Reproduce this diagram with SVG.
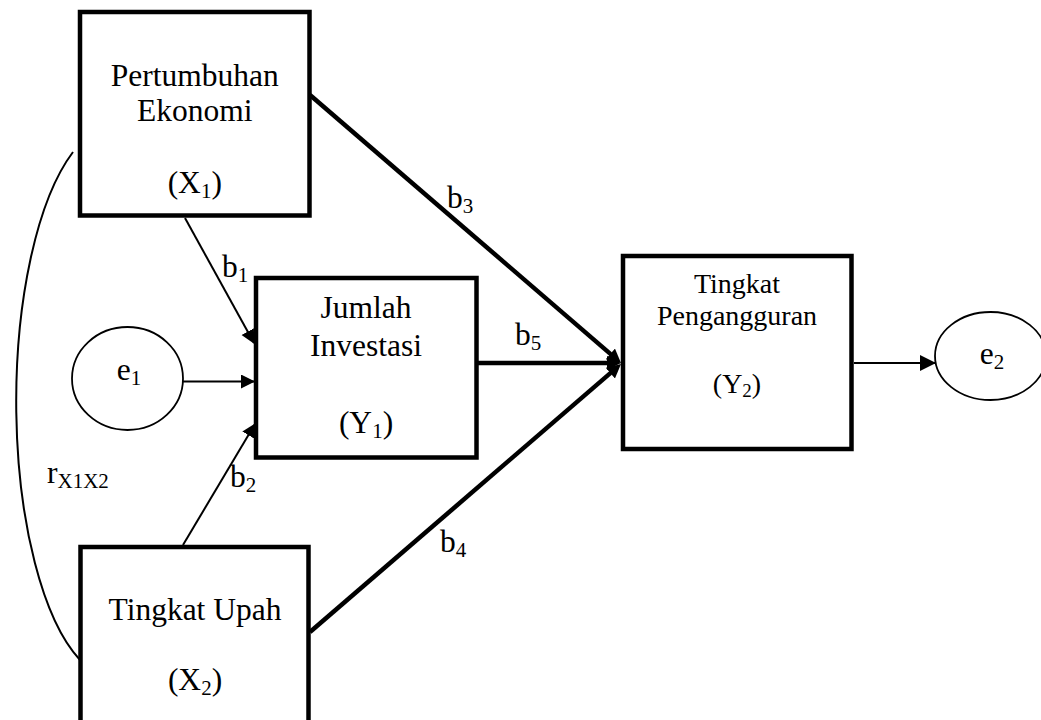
<svg xmlns="http://www.w3.org/2000/svg" width="1041" height="720" viewBox="0 0 1041 720">
<style>
.box{fill:#fff;stroke:#000;stroke-width:4.5}
.ell{fill:#fff;stroke:#000;stroke-width:1.8}
.t{font-family:"Liberation Serif","Times New Roman",serif;font-size:31.5px;fill:#000}
.ts{font-family:"Liberation Serif","Times New Roman",serif;font-size:28px;fill:#000}
.sub{font-size:21px}
.subs{font-size:19px}
.thin{stroke:#000;stroke-width:2;fill:none}
.thick{stroke:#000;stroke-width:4.5;fill:none}
</style>
<defs>
<marker id="ah" markerUnits="userSpaceOnUse" markerWidth="16" markerHeight="16" refX="13" refY="7" orient="auto">
<path d="M0,0 L14,7 L0,14 z" fill="#000"/>
</marker>
<marker id="ahb" markerUnits="userSpaceOnUse" markerWidth="18" markerHeight="18" refX="15" refY="8" orient="auto">
<path d="M0,0 L16,8 L0,16 z" fill="#000"/>
</marker>
<marker id="aht" markerUnits="userSpaceOnUse" markerWidth="16" markerHeight="16" refX="8" refY="7" orient="auto">
<path d="M0,0 L14,7 L0,14 z" fill="#000"/>
</marker>
</defs>
<g id="connectors">
<path class="thin" d="M73,152 A100,277 0 0,0 80,660" stroke-width="1.6"/>
<line class="thin" x1="185" y1="218" x2="254" y2="343" marker-end="url(#ah)"/>
<line class="thin" x1="183" y1="545" x2="255" y2="424" marker-end="url(#ah)"/>
<line class="thin" x1="183" y1="381.5" x2="254" y2="381.5" stroke-width="1.6" marker-end="url(#ah)"/>
<line class="thick" x1="310" y1="95" x2="616.45" y2="359.08" marker-end="url(#aht)"/>
<line class="thick" x1="478" y1="363" x2="615" y2="363" marker-end="url(#aht)"/>
<line class="thick" x1="310" y1="632" x2="616.45" y2="367.9" marker-end="url(#aht)"/>
<line class="thin" x1="854" y1="363" x2="935" y2="363" stroke-width="1.8" marker-end="url(#ahb)"/>
<text class="t" x="222" y="277">b<tspan class="sub" dy="5">1</tspan></text>
<text class="t" x="230" y="487">b<tspan class="sub" dy="5">2</tspan></text>
<text class="t" x="447" y="208">b<tspan class="sub" dy="5">3</tspan></text>
<text class="t" x="440" y="552">b<tspan class="sub" dy="5">4</tspan></text>
<text class="t" x="515" y="345">b<tspan class="sub" dy="5">5</tspan></text>
<text class="t" x="47" y="483">r<tspan class="sub" dy="5">X1X2</tspan></text>
</g>
<g id="node-x1">
<rect class="box" x="80" y="12" width="229.5" height="203.5"/>
<text class="t" x="194.75" y="86" text-anchor="middle">Pertumbuhan</text>
<text class="t" x="194.75" y="121" text-anchor="middle">Ekonomi</text>
<text class="t" x="194.75" y="193" text-anchor="middle">(X<tspan class="sub" dy="5">1</tspan><tspan dy="-5">)</tspan></text>
</g>
<g id="node-y1">
<rect class="box" x="256" y="278" width="220.5" height="179.5"/>
<text class="t" x="366" y="318" text-anchor="middle">Jumlah</text>
<text class="t" x="366" y="356" text-anchor="middle">Investasi</text>
<text class="t" x="366" y="433" text-anchor="middle">(Y<tspan class="sub" dy="5">1</tspan><tspan dy="-5">)</tspan></text>
</g>
<g id="node-y2">
<rect class="box" x="623" y="256" width="228.5" height="193"/>
<text class="ts" x="737" y="293" text-anchor="middle">Tingkat</text>
<text class="ts" x="737" y="325" text-anchor="middle">Pengangguran</text>
<text class="ts" x="737" y="393" text-anchor="middle">(Y<tspan class="subs" dy="4">2</tspan><tspan dy="-4">)</tspan></text>
</g>
<g id="node-x2">
<rect class="box" x="80.5" y="547" width="228" height="200"/>
<text class="t" x="195" y="620" text-anchor="middle">Tingkat Upah</text>
<text class="t" x="195" y="690" text-anchor="middle">(X<tspan class="sub" dy="5">2</tspan><tspan dy="-5">)</tspan></text>
</g>
<g id="node-e1">
<ellipse class="ell" cx="127.5" cy="378.5" rx="55.5" ry="51.5"/>
<text class="t" x="129" y="380" text-anchor="middle">e<tspan class="sub" dy="5">1</tspan></text>
</g>
<g id="node-e2">
<ellipse class="ell" cx="990.5" cy="356" rx="55.5" ry="44"/>
<text class="t" x="992" y="364" text-anchor="middle">e<tspan class="sub" dy="5">2</tspan></text>
</g>
</svg>
